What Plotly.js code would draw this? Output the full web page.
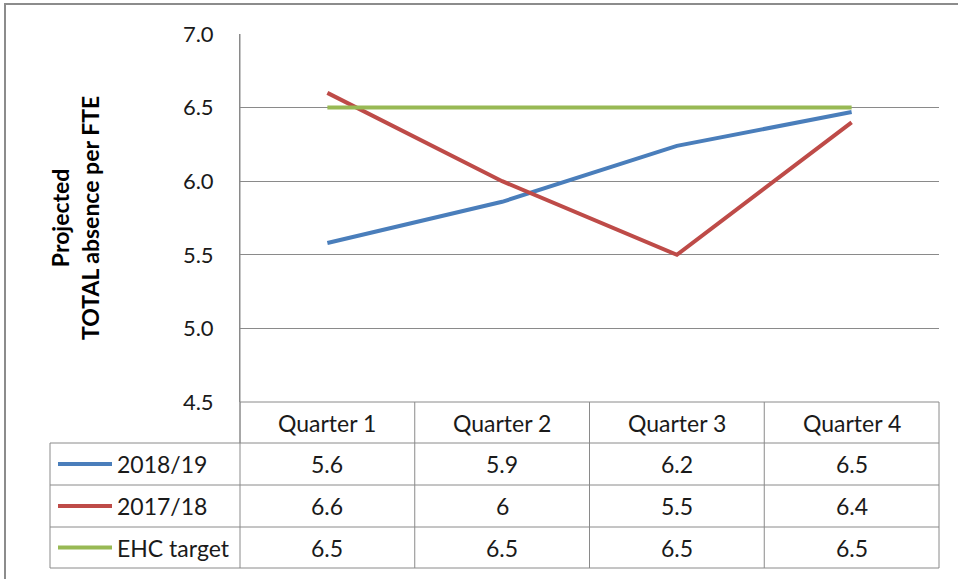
<!DOCTYPE html>
<html>
<head>
<meta charset="utf-8">
<script src="https://cdn.plot.ly/plotly-3.0.1.min.js"></script>
<style>html,body{margin:0;padding:0;background:#fff}#chart{width:958px;height:579px}</style>
</head>
<body>
<div id="chart"></div>
<script>
// ---- data ----
const categories = ["Quarter 1", "Quarter 2", "Quarter 3", "Quarter 4"];
const seriesNames = ["2018/19", "2017/18", "EHC target"];
const s2018_19 = [5.58, 5.86, 6.24, 6.47];
const s2017_18 = [6.6, 6.0, 5.5, 6.4];
const ehcTarget = [6.5, 6.5, 6.5, 6.5];
const label2018_19 = ["5.6", "5.9", "6.2", "6.5"];
const label2017_18 = ["6.6", "6", "5.5", "6.4"];
const labelEhc = ["6.5", "6.5", "6.5", "6.5"];
const yTitleText = "Projected<br>TOTAL absence per FTE";

// ---- styling / layout ----
const W = 958, H = 579;
const L = 240, R = 939, T = 34, B = 402;
const colors = ["#4a7ebb", "#be4b48", "#98b954"];
const gridC = "#8a8a8a";
const font = "Lato, 'Open Sans', sans-serif";
const fs = 23;
const px2x = px => (px - L) / (R - L);
const px2y = py => (B - py) / (B - T);

const seriesVals = [s2018_19, s2017_18, ehcTarget];
const seriesLabels = [label2018_19, label2017_18, labelEhc];

const traces = seriesVals.map((v, i) => ({
  type: "scatter", mode: "lines", x: categories, y: v, name: seriesNames[i],
  line: {color: colors[i], width: 4}, hoverinfo: "skip", showlegend: false, cliponaxis: false
}));

// table geometry
const headTop = 402, headBot = 443;
const rowLines = [443, 485, 527, 568];
const tableLeft = 50;
const colW = (R - L) / categories.length;

const shapes = [];
const line = (x0, y0, x1, y1, c, w) => shapes.push({type: "line", xref: "paper", yref: "paper",
  x0: px2x(x0), y0: px2y(y0), x1: px2x(x1), y1: px2y(y1), line: {color: c, width: w}});
// outer chart border
shapes.push({type: "rect", xref: "paper", yref: "paper", x0: px2x(5), y0: px2y(4), x1: px2x(1000), y1: px2y(620),
  line: {color: "#8c8c8c", width: 2}, fillcolor: "rgba(0,0,0,0)"});
// table header top & axis line extension
line(L, headTop, R, headTop, gridC, 1);
line(L, T, L, headBot, gridC, 1);
rowLines.forEach(y => line(tableLeft, y, R, y, gridC, 1));
for (let i = 0; i <= categories.length; i++) {
  const x = L + i * colW;
  line(x, headTop, x, rowLines[rowLines.length - 1], gridC, 1);
}
line(tableLeft, rowLines[0], tableLeft, rowLines[rowLines.length - 1], gridC, 1);
// legend keys
seriesNames.forEach((n, i) => {
  const yc = (rowLines[i] + rowLines[i + 1]) / 2;
  line(58, yc, 112, yc, colors[i], 4);
});

const annotations = [];
const txtColor = "#1a1a1a";
categories.forEach((c, j) => annotations.push({xref: "x", yref: "paper", x: c, y: px2y((headTop + headBot) / 2),
  text: c, showarrow: false, xanchor: "center", yanchor: "middle", font: {family: font, size: fs, color: txtColor}}));
seriesNames.forEach((n, i) => {
  const yc = px2y((rowLines[i] + rowLines[i + 1]) / 2);
  annotations.push({xref: "paper", yref: "paper", x: px2x(115), y: yc, text: n, showarrow: false,
    xanchor: "left", yanchor: "middle", font: {family: font, size: fs, color: txtColor}});
  categories.forEach((c, j) => annotations.push({xref: "x", yref: "paper", x: c, y: yc, text: seriesLabels[i][j],
    showarrow: false, xanchor: "center", yanchor: "middle", font: {family: font, size: fs, color: txtColor}}));
});
// y-axis title
annotations.push({xref: "paper", yref: "paper", x: px2x(75), y: 0.5, text: yTitleText, textangle: -90,
  showarrow: false, xanchor: "center", yanchor: "middle", align: "center",
  font: {family: font, size: 23, color: "#000", weight: "bold"}});

const layout = {
  width: W, height: H,
  margin: {l: L, r: W - R, t: T, b: H - B, pad: 0},
  paper_bgcolor: "#fff", plot_bgcolor: "#fff",
  font: {family: font, color: txtColor},
  xaxis: {type: "category", range: [-0.5, 3.5], showticklabels: false, showgrid: false, zeroline: false, showline: false, fixedrange: true},
  yaxis: {range: [4.5, 7.0], dtick: 0.5, tick0: 4.5, tickformat: ".1f", showgrid: true, gridcolor: gridC, gridwidth: 1,
    zeroline: false, showline: true, linecolor: gridC, linewidth: 1, ticks: "", ticklabelstandoff: 21,
    tickfont: {family: font, size: 22, color: txtColor}, fixedrange: true},
  shapes: shapes, annotations: annotations, showlegend: false
};

Plotly.newPlot("chart", traces, layout, {displayModeBar: false, staticPlot: true});
</script>
</body>
</html>
